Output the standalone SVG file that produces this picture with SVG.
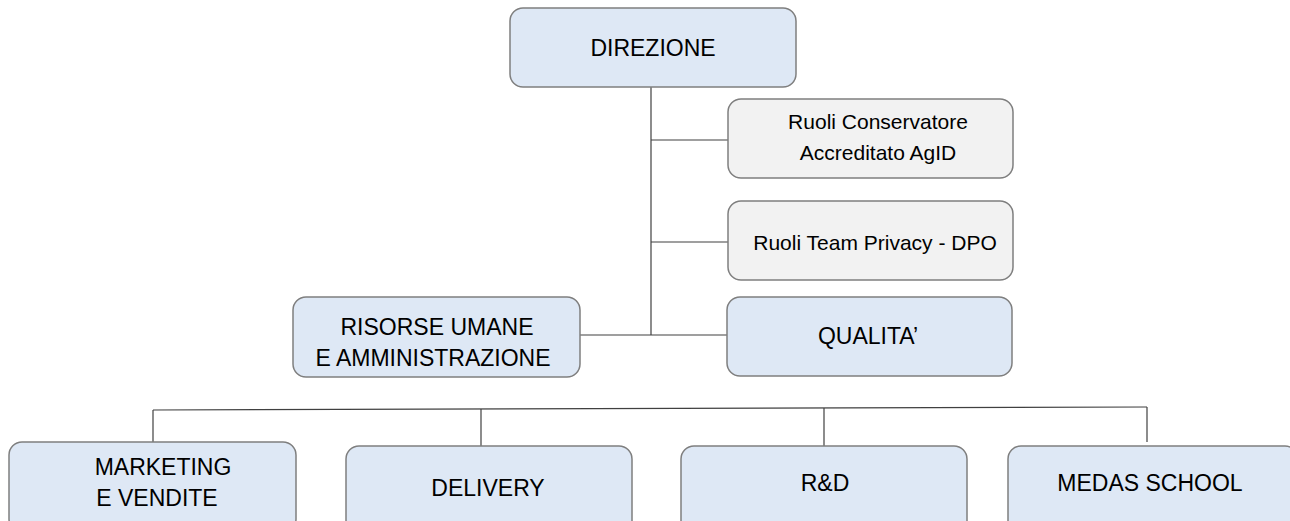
<svg xmlns="http://www.w3.org/2000/svg" width="1290" height="521" viewBox="0 0 1290 521">
<style>
.b{fill:#dee8f5;stroke:#7f7f7f;stroke-width:1.5}
.g{fill:#f2f2f2;stroke:#7f7f7f;stroke-width:1.5}
.t{font-family:"Liberation Sans",Arial,sans-serif;font-size:23px;fill:#000;text-anchor:middle}
.s{font-family:"Liberation Sans",Arial,sans-serif;font-size:21px;fill:#000;text-anchor:middle}
.c{stroke:#404040;stroke-width:1.2;fill:none}
</style>
<rect width="1290" height="521" fill="#fff"/>
<g id="connectors">
<path class="c" d="M651 87V335"/>
<path class="c" d="M651 140H728"/>
<path class="c" d="M651 242H728"/>
<path class="c" d="M580 335H727"/>
<path class="c" d="M153 410L1147 407"/>
<path class="c" d="M153 410V443"/>
<path class="c" d="M481 409V446"/>
<path class="c" d="M824 408V446"/>
<path class="c" d="M1147 407V442"/>
</g>
<g id="direzione"><rect class="b" x="510" y="8" width="286" height="79" rx="13"/><text class="t" x="653" y="56">DIREZIONE</text></g>
<g id="conservatore"><rect class="g" x="728" y="99" width="285" height="79" rx="13"/><text class="s" x="878" y="129">Ruoli Conservatore</text><text class="s" x="878" y="160">Accreditato AgID</text></g>
<g id="privacy"><rect class="g" x="728" y="201" width="285" height="79" rx="13"/><text class="s" x="875" y="250">Ruoli Team Privacy - DPO</text></g>
<g id="risorse"><rect class="b" x="293" y="297" width="287" height="80" rx="13"/><text class="t" x="437" y="335">RISORSE UMANE</text><text class="t" x="433" y="366">E AMMINISTRAZIONE</text></g>
<g id="qualita"><rect class="b" x="727" y="297" width="285" height="79" rx="13"/><text class="t" x="868" y="344">QUALITA’</text></g>
<g id="marketing"><rect class="b" x="9" y="442" width="287" height="90" rx="13"/><text class="t" x="163" y="475">MARKETING</text><text class="t" x="157" y="506">E VENDITE</text></g>
<g id="delivery"><rect class="b" x="346" y="446" width="286" height="90" rx="13"/><text class="t" x="488" y="496">DELIVERY</text></g>
<g id="rd"><rect class="b" x="681" y="446" width="286" height="90" rx="13"/><text class="t" x="825" y="491">R&amp;D</text></g>
<g id="medas"><rect class="b" x="1008" y="446" width="290" height="90" rx="13"/><text class="t" x="1150" y="491">MEDAS SCHOOL</text></g>
</svg>
